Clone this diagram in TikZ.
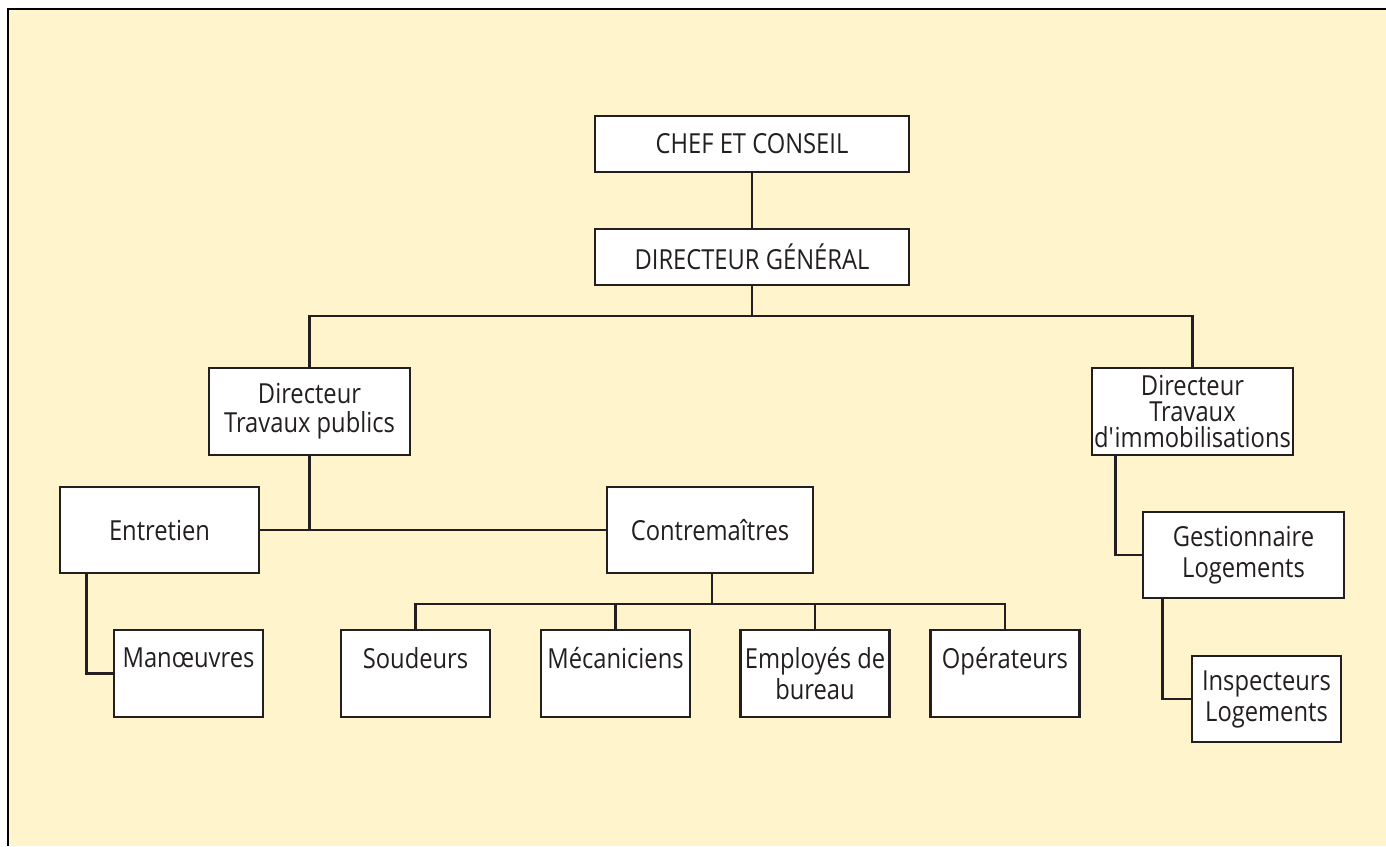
\documentclass[tikz,border=0pt]{standalone}
\usepackage{fontspec}
\setmainfont{Open Sans}[FakeStretch=0.86]
\definecolor{cream}{HTML}{FFF4CB}
\definecolor{ink}{HTML}{231F20}
\begin{document}
\begin{tikzpicture}[x=0.5pt,y=-0.5pt,
  every node/.style={font=\fontsize{13.8}{15.5}\selectfont, text=ink},
  box/.style={draw=ink, fill=white, line width=1.45pt, align=center, inner sep=0pt},
  topbox/.style={box, minimum width=157pt, minimum height=28pt},
  midbox/.style={box, minimum width=100.5pt, minimum height=43.5pt},
  smallbox/.style={box, minimum width=74.5pt, minimum height=43.5pt},
  link/.style={draw=ink, line width=1.45pt},
]
\useasboundingbox (0,0) rectangle (1386,846);
\fill[white] (0,0) rectangle (1386,846);
% cream panel with its frame on the left and top
\fill[cream] (8,9) rectangle (1386,846);
\draw[draw=black, line width=1.2pt] (8,846) -- (8,9) -- (1386,9);

% boxes
\node[topbox] (chef) at (752,144) {CHEF ET CONSEIL};
\node[topbox] (dg) at (752,257) {DIRECTEUR GÉNÉRAL};
\node[midbox, font=\fontsize{13.8}{14.5}\selectfont] (dtp) at (309.5,411.5) {Directeur\\Travaux publics};
\node[midbox, font=\fontsize{13.8}{13}\selectfont] (dti) at (1192.5,411.5) {Directeur\\Travaux\\d\textquotesingle immobilisations};
\node[box, minimum width=99.5pt, minimum height=43pt] (ent) at (159.5,530) {Entretien};
\node[box, minimum width=103pt, minimum height=43pt] (con) at (710,530) {Contremaîtres};
\node[midbox, minimum height=43pt] (ges) at (1243.5,555) {Gestionnaire\\Logements};
\node[smallbox] (man) at (188.5,673.5) {Manœuvres\\\phantom{b}};
\node[smallbox] (sou) at (415.5,673.5) {Soudeurs\\\phantom{b}};
\node[smallbox] (mec) at (615.5,673.5) {Mécaniciens\\\phantom{b}};
\node[smallbox] (emp) at (815,673.5) {Employés de\\bureau};
\node[smallbox] (ope) at (1005,673.5) {Opérateurs\\\phantom{b}};
\node[smallbox, minimum height=43pt] (ins) at (1266.5,699) {Inspecteurs\\Logements};

% connectors
\coordinate (bus1) at (752,316);
\coordinate (bus2) at (712,604);
\draw[link] (chef) -- (dg);
\draw[link] (dg) -- (bus1);
\draw[link] (dtp.north) |- (bus1) -| (dti.north);
\draw[link] (dtp.south) -- (dtp.south |- ent.east);
\draw[link] (ent.east) -- (con.west);
\draw[link] (con.south -| bus2) -- (bus2);
\draw[link] (sou.north) |- (bus2) -| (ope.north);
\draw[link] (mec.north) -- (mec.north |- bus2);
\draw[link] (emp.north) -- (emp.north |- bus2);
\draw[link] ([xshift=14pt]ent.south west) |- (man.west);
\draw[link] ([xshift=12.5pt]dti.south west) |- (ges.west);
\draw[link] ([xshift=10.5pt]ges.south west) |- (ins.west);
\end{tikzpicture}
\end{document}
